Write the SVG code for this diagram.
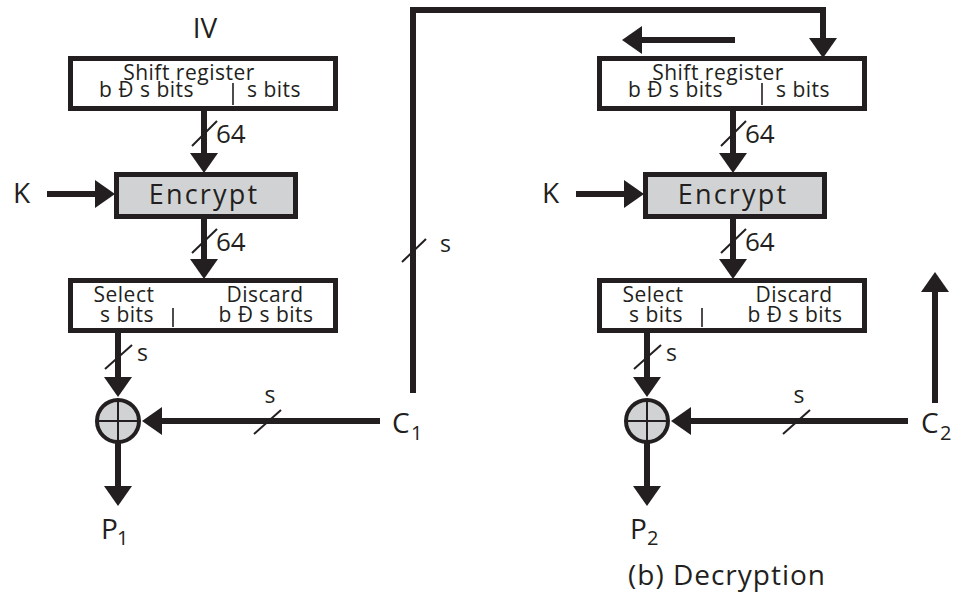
<svg xmlns="http://www.w3.org/2000/svg" width="953" height="595" viewBox="0 0 953 595">
  <style>
    text { font-family: "Open Sans", "Liberation Sans", sans-serif; fill: #231f20; }
    .box { fill: #ffffff; stroke: #231f20; stroke-width: 5; }
    .enc { fill: #d1d2d4; stroke: #231f20; stroke-width: 5; }
    .wire { fill: none; stroke: #231f20; stroke-width: 6; }
    .arrow { fill: none; stroke: #231f20; stroke-width: 6; marker-end: url(#head); }
    .tick { stroke: #231f20; stroke-width: 2; }
    .div { stroke: #231f20; stroke-width: 1.6; }
    .xor { fill: #d1d2d4; stroke: #231f20; stroke-width: 4; }
    .lbl { font-size: 28px; }
    .sub { font-size: 20px; }
    .small { font-size: 21px; letter-spacing: 0.5px; }
    .num { font-size: 26px; }
    .bit { font-size: 23px; }
    .mid { text-anchor: middle; }
  </style>
  <defs>
    <marker id="head" markerUnits="userSpaceOnUse" markerWidth="20" markerHeight="28" viewBox="0 0 20 28" refX="9" refY="14" orient="auto">
      <path d="M0,0 L20,14 L0,28 z" fill="#231f20"/>
    </marker>
  </defs>

  <!-- left column: CFB stage -->
  <g id="iv"><text class="lbl mid" x="205" y="38">IV</text></g>

  <g id="shift-register-1">
    <rect class="box" x="70.5" y="58.5" width="265" height="50"/>
    <line class="div" x1="233" y1="83" x2="233" y2="105"/>
    <text class="small mid" x="189" y="80">Shift register</text>
    <text class="small" x="99" y="97">b Ð s bits</text>
    <text class="small" x="247" y="97">s bits</text>
  </g>

  <g id="k-1"><text class="lbl" x="13" y="203">K</text></g>

  <g id="encrypt-1">
    <rect class="enc" x="116.5" y="174.5" width="179" height="42"/>
    <text class="mid" x="204" y="204" font-size="27" letter-spacing="2.2">Encrypt</text>
  </g>

  <g id="select-1">
    <rect class="box" x="70.5" y="280.5" width="265" height="50"/>
    <line class="div" x1="173" y1="308" x2="173" y2="327"/>
    <text class="small mid" x="124" y="302">Select</text>
    <text class="small mid" x="127" y="322">s bits</text>
    <text class="small mid" x="265" y="302">Discard</text>
    <text class="small mid" x="266" y="322">b Ð s bits</text>
  </g>

  <g id="xor-1">
    <circle class="xor" cx="118" cy="421" r="21"/>
    <line class="tick" x1="118" y1="400" x2="118" y2="442" stroke-width="4"/>
    <line class="tick" x1="97" y1="421" x2="139" y2="421" stroke-width="4"/>
  </g>

  <g id="c1"><text class="lbl" x="392" y="433">C</text><text class="sub" x="411" y="440">1</text></g>
  <g id="p1"><text class="lbl" x="101" y="539">P</text><text class="sub" x="117" y="545">1</text></g>

  <!-- right column: CFB stage -->
  <g id="shift-register-2">
    <rect class="box" x="599.5" y="58.5" width="265" height="50"/>
    <line class="div" x1="762" y1="83" x2="762" y2="105"/>
    <text class="small mid" x="718" y="80">Shift register</text>
    <text class="small" x="628" y="97">b Ð s bits</text>
    <text class="small" x="776" y="97">s bits</text>
  </g>

  <g id="k-2"><text class="lbl" x="542" y="203">K</text></g>

  <g id="encrypt-2">
    <rect class="enc" x="645.5" y="174.5" width="179" height="42"/>
    <text class="mid" x="733" y="204" font-size="27" letter-spacing="2.2">Encrypt</text>
  </g>

  <g id="select-2">
    <rect class="box" x="599.5" y="280.5" width="265" height="50"/>
    <line class="div" x1="702" y1="308" x2="702" y2="327"/>
    <text class="small mid" x="653" y="302">Select</text>
    <text class="small mid" x="656" y="322">s bits</text>
    <text class="small mid" x="794" y="302">Discard</text>
    <text class="small mid" x="795" y="322">b Ð s bits</text>
  </g>

  <g id="xor-2">
    <circle class="xor" cx="647" cy="421" r="21"/>
    <line class="tick" x1="647" y1="400" x2="647" y2="442" stroke-width="4"/>
    <line class="tick" x1="626" y1="421" x2="668" y2="421" stroke-width="4"/>
  </g>

  <g id="c2"><text class="lbl" x="921" y="433">C</text><text class="sub" x="940" y="440">2</text></g>
  <g id="p2"><text class="lbl" x="630" y="539">P</text><text class="sub" x="647" y="545">2</text></g>

  <g id="caption"><text x="628" y="585" font-size="28" letter-spacing="1">(b) Decryption</text></g>

  <g id="connectors">
    <!-- left column -->
    <line class="arrow" x1="204" y1="111" x2="204" y2="162"/>
    <line class="tick" x1="192" y1="146" x2="217" y2="121"/>
    <text class="num" x="216" y="143">64</text>

    <line class="arrow" x1="47" y1="194" x2="104" y2="194"/>

    <line class="arrow" x1="204" y1="219" x2="204" y2="268"/>
    <line class="tick" x1="192" y1="253" x2="217" y2="229"/>
    <text class="num" x="216" y="251">64</text>

    <line class="arrow" x1="118" y1="333" x2="118" y2="386"/>
    <line class="tick" x1="105" y1="369" x2="132" y2="345"/>
    <text class="bit" x="137" y="361">s</text>

    <line class="arrow" x1="380" y1="421" x2="153" y2="421"/>
    <line class="tick" x1="254" y1="434" x2="281" y2="410"/>
    <text class="bit mid" x="270" y="403">s</text>

    <line class="arrow" x1="118" y1="442" x2="118" y2="495"/>

    <!-- feedback of C1 into the second shift register -->
    <path class="arrow" d="M413,393 V10 H823 V47"/>
    <line class="tick" x1="402" y1="262" x2="426" y2="239"/>
    <text class="bit" x="440" y="252">s</text>

    <!-- right column -->
    <line class="arrow" x1="735" y1="40" x2="633" y2="40"/>

    <line class="arrow" x1="733" y1="111" x2="733" y2="162"/>
    <line class="tick" x1="721" y1="146" x2="746" y2="121"/>
    <text class="num" x="745" y="143">64</text>

    <line class="arrow" x1="576" y1="194" x2="633" y2="194"/>

    <line class="arrow" x1="733" y1="219" x2="733" y2="268"/>
    <line class="tick" x1="721" y1="253" x2="746" y2="229"/>
    <text class="num" x="745" y="251">64</text>

    <line class="arrow" x1="647" y1="333" x2="647" y2="386"/>
    <line class="tick" x1="634" y1="369" x2="661" y2="345"/>
    <text class="bit" x="666" y="361">s</text>

    <line class="arrow" x1="908" y1="421" x2="682" y2="421"/>
    <line class="tick" x1="783" y1="434" x2="810" y2="410"/>
    <text class="bit mid" x="799" y="403">s</text>

    <line class="arrow" x1="647" y1="442" x2="647" y2="495"/>

    <line class="arrow" x1="935" y1="403" x2="935" y2="283"/>
  </g>
</svg>
